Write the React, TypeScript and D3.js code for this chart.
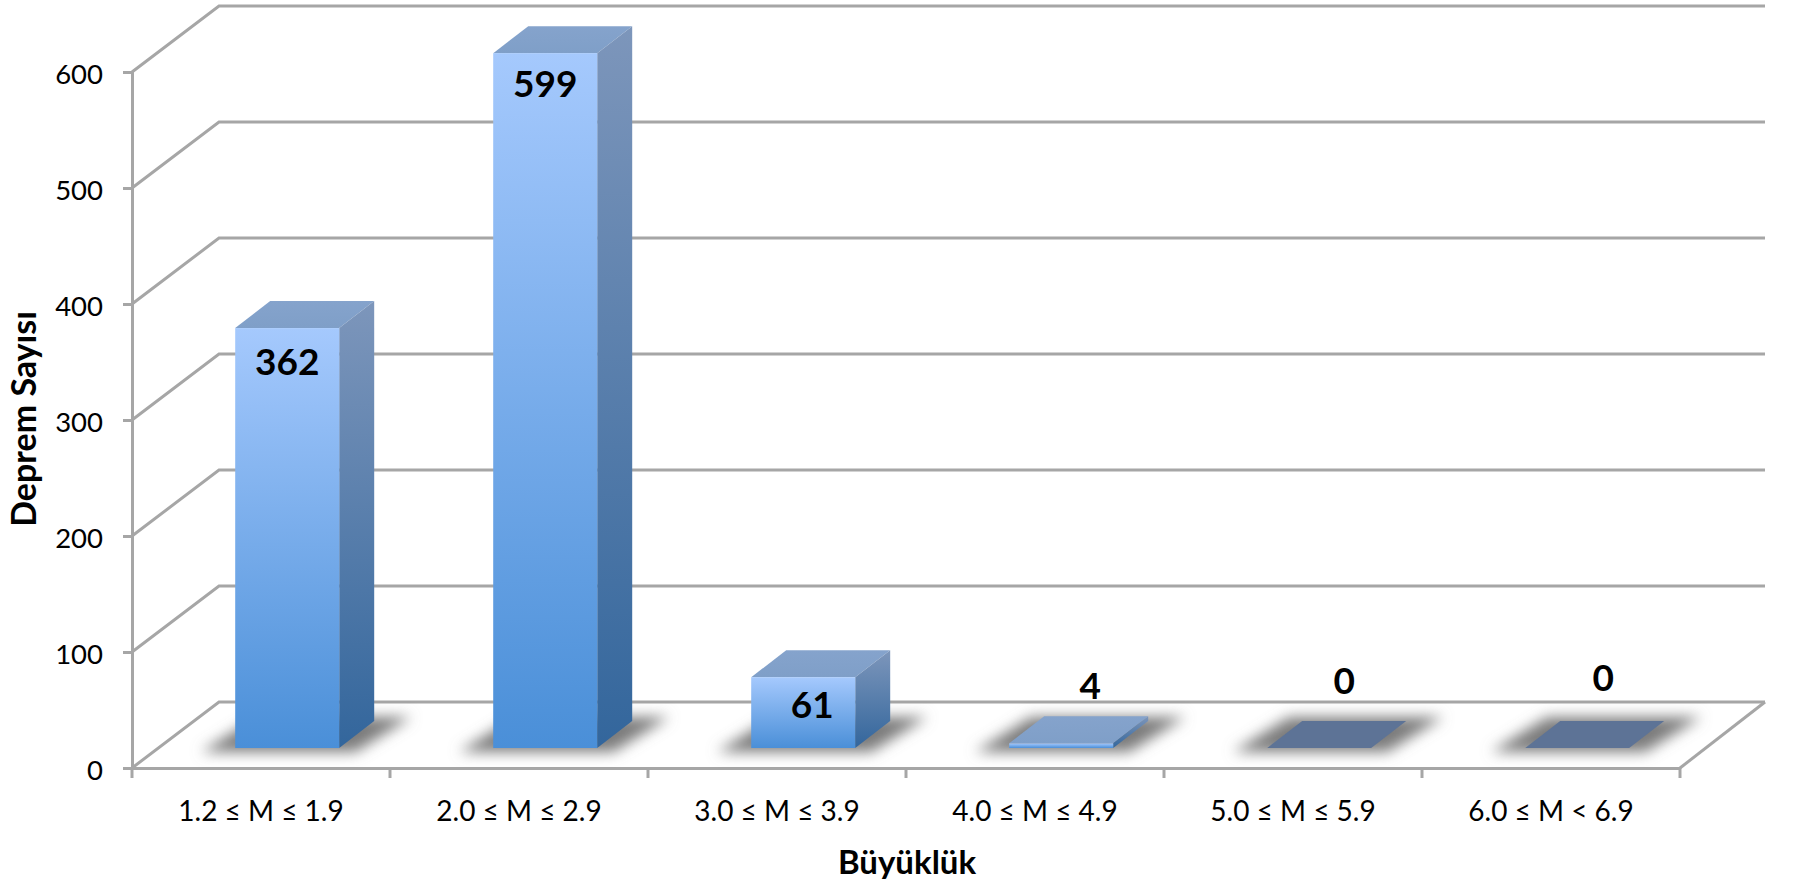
import React, { useRef, useEffect } from 'react';
import * as d3 from 'd3';

const categories: string[] = ['1.2 ≤ M ≤ 1.9', '2.0 ≤ M ≤ 2.9', '3.0 ≤ M ≤ 3.9', '4.0 ≤ M ≤ 4.9', '5.0 ≤ M ≤ 5.9', '6.0 ≤ M < 6.9'];
const values: number[] = [362, 599, 61, 4, 0, 0];
const yTicks: number[] = [0, 100, 200, 300, 400, 500, 600];

const width = 1794;
const height = 882;
const font = 'Lato, sans-serif';
const gridColor = '#a6a6a6';

// wall / floor depth of the fake 3d box
const wallDx = 87;
const wallDy = 66;
// bar depth
const barDx = 35;
const barDy = 27;
const barLift = 20;
const barWidth = 104;

function App() {
    const d3Container = useRef<SVGSVGElement>(null);

    useEffect(() => {
        if (!d3Container.current) return;

        const x = d3.scaleBand<string>().domain(categories).range([132, 1680]);
        const y = d3.scaleLinear().domain([0, 600]).range([768, 72]);
        const barLeft = (c: string) => (x(c) as number) + x.bandwidth() * 0.4;
        const y0 = y(0) - barLift;

        const svg = d3.select(d3Container.current);
        svg.selectAll('*').remove();

        const defs = svg.append('defs');
        const gradient = (id: string, top: string, bottom: string) => {
            const g = defs.append('linearGradient').attr('id', id).attr('x1', 0).attr('y1', 0).attr('x2', 0).attr('y2', 1);
            g.append('stop').attr('offset', '0%').attr('stop-color', top);
            g.append('stop').attr('offset', '100%').attr('stop-color', bottom);
        };
        gradient('front', '#a5c9fd', '#4a8fd8');
        gradient('side', '#7d96bb', '#33669c');
        gradient('top', '#85a3cc', '#7f9fc8');
        defs.append('filter').attr('id', 'blur').attr('x', '-30%').attr('y', '-60%').attr('width', '160%').attr('height', '220%')
            .append('feGaussianBlur').attr('stdDeviation', 7);

        // gridlines on the walls
        svg.append('g')
            .attr('class', 'grid')
            .selectAll('path')
            .data(yTicks)
            .join('path')
            .attr('d', (d: number) => `M${x.range()[0]},${y(d)}L${x.range()[0] + wallDx},${y(d) - wallDy}L${x.range()[1] + wallDx - 2},${y(d) - wallDy}`)
            .attr('fill', 'none')
            .attr('stroke', gridColor)
            .attr('stroke-width', 3);

        // floor right edge
        svg.append('path')
            .attr('d', `M${x.range()[1]},${y(0)}L${x.range()[1] + wallDx - 2},${y(0) - wallDy}`)
            .attr('fill', 'none')
            .attr('stroke', gridColor)
            .attr('stroke-width', 3);

        const yAxis = (g: any) => g
            .attr('transform', `translate(${x.range()[0]},0)`)
            .call(d3.axisLeft(y).tickValues(yTicks).tickSize(9).tickPadding(20).tickFormat(d3.format('d') as any))
            .call((g: any) => g.select('.domain').attr('stroke', gridColor).attr('stroke-width', 3))
            .call((g: any) => g.selectAll('.tick line').attr('stroke', gridColor).attr('stroke-width', 3))
            .call((g: any) => g.selectAll('text').attr('dy', '0.42em').attr('font-family', font).attr('font-size', 27.5).attr('fill', '#000'));

        const xAxis = (g: any) => g
            .attr('transform', `translate(0,${y(0)})`)
            .call(d3.axisBottom(x).tickSize(0).tickPadding(33))
            .call((g: any) => g.select('.domain').attr('stroke', gridColor).attr('stroke-width', 3))
            .call((g: any) => g.selectAll('text').attr('font-family', font).attr('font-size', 28).attr('fill', '#000'));

        svg.append('g').attr('class', 'x-axis').call(xAxis);

        // x ticks sit on band edges, not band centers
        svg.append('g')
            .selectAll('line')
            .data(d3.range(categories.length + 1))
            .join('line')
            .attr('x1', (i: number) => x.range()[0] + i * x.step())
            .attr('x2', (i: number) => x.range()[0] + i * x.step())
            .attr('y1', y(0))
            .attr('y2', y(0) + 10)
            .attr('stroke', gridColor)
            .attr('stroke-width', 3);

        svg.append('g').attr('class', 'y-axis').call(yAxis);

        // shadows
        svg.append('g')
            .selectAll('path')
            .data(categories)
            .join('path')
            .attr('d', (c: string) => {
                const l = barLeft(c);
                const r = l + barWidth;
                return `M${l - 34},${y0 + 4}L${r + 16},${y0 + 4}L${r + 72},${y0 - 31}L${l + 22},${y0 - 31}Z`;
            })
            .attr('fill', '#7c7c7c')
            .attr('filter', 'url(#blur)');

        const bars = svg.append('g')
            .attr('class', 'bars')
            .selectAll('g')
            .data(categories)
            .join('g');

        // zero-height bars only show their dark footprint
        bars.append('path')
            .attr('d', (c: string, i: number) => {
                const l = barLeft(c);
                const t = y(values[i]) - barLift;
                return `M${l},${t}L${l + barDx},${t - barDy}L${l + barWidth + barDx},${t - barDy}L${l + barWidth},${t}Z`;
            })
            .attr('fill', (c: string, i: number) => values[i] === 0 ? '#5d7396' : 'url(#top)');

        bars.filter((c: string, i: number) => values[i] > 0)
            .append('path')
            .attr('d', (c: string) => {
                const i = categories.indexOf(c);
                const r = barLeft(c) + barWidth;
                const t = y(values[i]) - barLift;
                return `M${r},${t}L${r + barDx},${t - barDy}L${r + barDx},${y0 - barDy}L${r},${y0}Z`;
            })
            .attr('fill', 'url(#side)');

        bars.filter((c: string, i: number) => values[i] > 0)
            .append('rect')
            .attr('x', (c: string) => barLeft(c))
            .attr('y', (c: string) => y(values[categories.indexOf(c)]) - barLift)
            .attr('width', barWidth)
            .attr('height', (c: string) => y0 - (y(values[categories.indexOf(c)]) - barLift))
            .attr('fill', 'url(#front)');

        // value labels, nudged by hand like the original's (y is the text baseline)
        const labelDx = [0, 0, 9, 29, 25, 26];
        const labelDy = [47, 44, 41, 0, 0, 0];
        const labelY = [0, 0, 0, 699, 694, 691];
        svg.append('g')
            .selectAll('text')
            .data(values)
            .join('text')
            .attr('x', (d: number, i: number) => barLeft(categories[i]) + barWidth / 2 + labelDx[i])
            .attr('y', (d: number, i: number) => labelY[i] || y(d) - barLift + labelDy[i])
            .attr('text-anchor', 'middle')
            .attr('font-family', font)
            .attr('font-weight', 700)
            .attr('font-size', 37)
            .attr('fill', '#000')
            .text((d: number) => d);

        svg.append('text')
            .attr('transform', 'translate(22,419) rotate(-90)')
            .attr('text-anchor', 'middle')
            .attr('dominant-baseline', 'central')
            .attr('font-family', font)
            .attr('font-weight', 700)
            .attr('font-size', 34)
            .text('Deprem Sayısı');

        svg.append('text')
            .attr('x', 907)
            .attr('y', 874)
            .attr('text-anchor', 'middle')
            .attr('font-family', font)
            .attr('font-weight', 700)
            .attr('font-size', 33)
            .text('Büyüklük');
    }, []);

    return (
        <svg
            width={width}
            height={height}
            ref={d3Container}
            style={{ position: 'absolute', left: 0, top: 0, background: '#fff' }}
        />
    );
}

export default App;
